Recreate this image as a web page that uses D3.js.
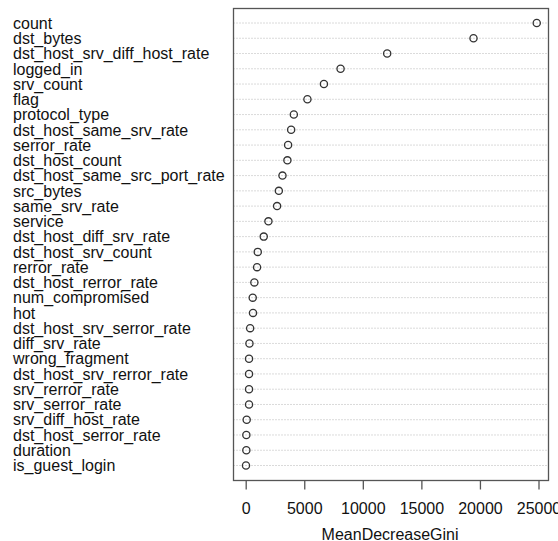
<!DOCTYPE html>
<html>
<head>
<meta charset="utf-8">
<script src="https://cdn.jsdelivr.net/npm/d3@7"></script>
<style>
html,body{margin:0;padding:0;background:#fff;}
svg{display:block;font-family:"Liberation Sans",Arial,sans-serif;}
</style>
</head>
<body>
<script>
const features = ["count","dst_bytes","dst_host_srv_diff_host_rate","logged_in","srv_count","flag","protocol_type","dst_host_same_srv_rate","serror_rate","dst_host_count","dst_host_same_src_port_rate","src_bytes","same_srv_rate","service","dst_host_diff_srv_rate","dst_host_srv_count","rerror_rate","dst_host_rerror_rate","num_compromised","hot","dst_host_srv_serror_rate","diff_srv_rate","wrong_fragment","dst_host_srv_rerror_rate","srv_rerror_rate","srv_serror_rate","srv_diff_host_rate","dst_host_serror_rate","duration","is_guest_login"];
const giniValues = [24850,19450,12080,8100,6680,5270,4110,3880,3620,3560,3140,2830,2680,1940,1540,1030,970,740,600,625,380,320,285,285,285,285,85,55,55,25];
const xTicks = [0,5000,10000,15000,20000,25000];
const xTitle = "MeanDecreaseGini";

const W = 558, H = 541;
const box = {left:233.5, right:548.5, top:8.5, bottom:480.5};

const svg = d3.select("body").append("svg").attr("width",W).attr("height",H);

const x = d3.scaleLinear().domain([0,25000]).range([245.7,538.5]);
const y = d3.scalePoint().domain(features).range([23,465.5]);

// dotted guide lines
svg.append("g").selectAll("line").data(features).join("line")
  .attr("x1",box.left).attr("x2",box.right)
  .attr("y1",d=>y(d)).attr("y2",d=>y(d))
  .attr("stroke","#b5b5b5").attr("stroke-width",1)
  .attr("stroke-dasharray","1,2");

// box
svg.append("rect").attr("x",box.left).attr("y",box.top)
  .attr("width",box.right-box.left).attr("height",box.bottom-box.top)
  .attr("fill","none").attr("stroke","#555").attr("stroke-width",1.3);

// points
svg.append("g").selectAll("circle").data(features).join("circle")
  .attr("cx",(d,i)=>x(giniValues[i])).attr("cy",d=>y(d)).attr("r",3.6)
  .attr("fill","none").attr("stroke","#333").attr("stroke-width",1.3);

// labels
svg.append("g").selectAll("text").data(features).join("text")
  .attr("x",13).attr("y",d=>y(d)).attr("dy","0.36em")
  .attr("font-size",16).attr("fill","#111").text(d=>d);

// x axis
const axis = d3.axisBottom(x).tickValues(xTicks).tickFormat(d3.format("d")).tickSize(9).tickPadding(13);
const gx = svg.append("g").attr("transform",`translate(0,${box.bottom})`).call(axis);
gx.select(".domain").remove();
gx.selectAll(".tick line").attr("stroke","#555").attr("stroke-width",1.3);
gx.selectAll(".tick text").attr("font-size",16).attr("fill","#111").attr("font-family","Liberation Sans, Arial, sans-serif");

svg.append("text").attr("x",x(12500)-2).attr("y",540)
  .attr("text-anchor","middle").attr("font-size",16).attr("fill","#111").text(xTitle);
</script>
</body>
</html>
